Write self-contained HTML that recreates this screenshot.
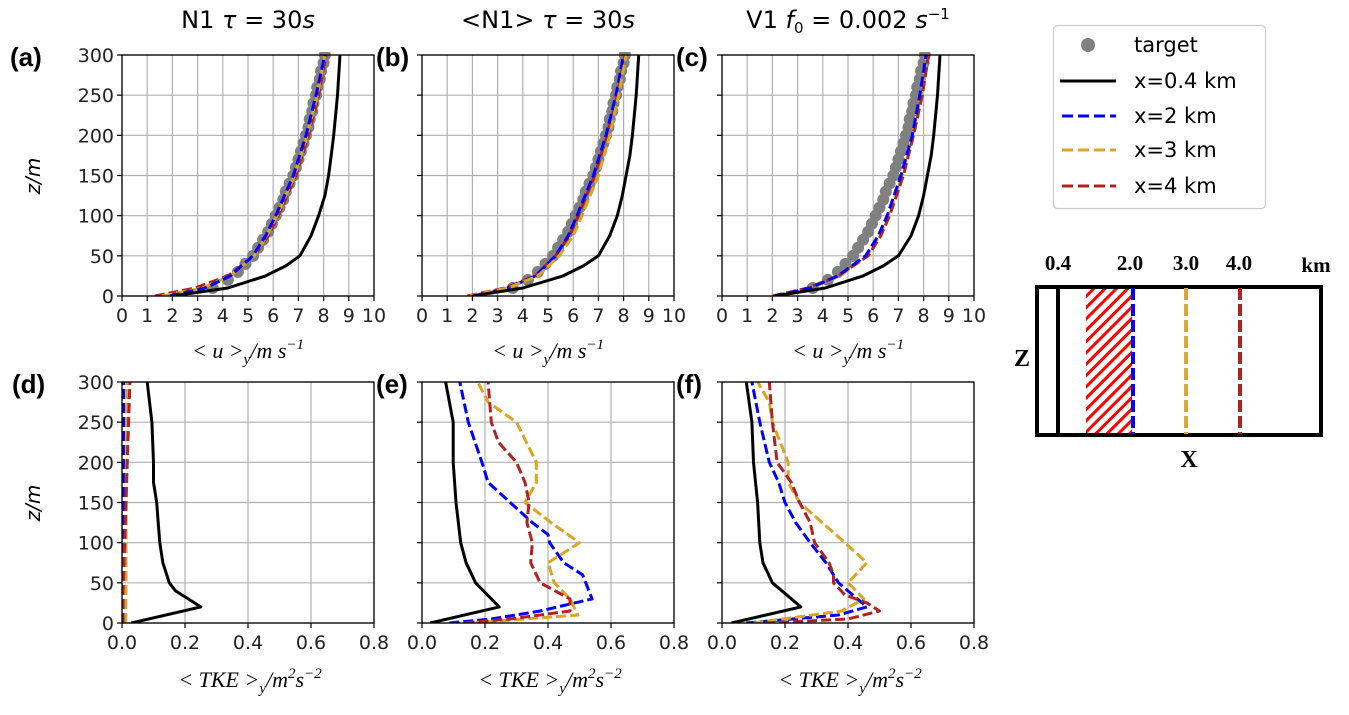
<!DOCTYPE html>
<html><head><meta charset="utf-8"><style>
body{margin:0;background:#fff;}
svg{display:block;font-family:"DejaVu Sans","Liberation Sans",sans-serif;}
.tk{font-size:19px;fill:#222;}
.ml{font-family:"Liberation Serif",serif;font-style:italic;font-size:22px;}
.pl{font-family:"Liberation Sans",sans-serif;font-weight:bold;font-size:26px;}
.ttl{font-size:24px;}
</style></head><body>
<svg id="fig" width="1349" height="715" viewBox="0 0 1349 715"></svg>
<script>
// ---- data ----
const zU = [0,10,25,37.5,50,75,100,125,150,175,200,250,300];
const blackA = [2.0,4.2,5.7,6.5,7.06,7.5,7.8,8.05,8.2,8.3,8.4,8.55,8.65];
const blackB = [2.0,4.0,5.6,6.4,7.0,7.45,7.75,7.95,8.1,8.25,8.35,8.5,8.6];
const blackC = [2.1,4.1,5.6,6.4,7.0,7.5,7.8,8.0,8.15,8.3,8.4,8.55,8.65];
const zT = [10,20,30,40,50,60,70,80,90,100,110,120,130,140,150,160,170,180,190,200,210,220,230,240,250,260,270,280,290,300];
const target = [3.6,4.2,4.6,4.9,5.2,5.4,5.6,5.8,5.95,6.1,6.25,6.4,6.5,6.65,6.8,6.9,7.0,7.1,7.2,7.3,7.4,7.45,7.55,7.6,7.7,7.75,7.85,7.9,8.0,8.05];
const zC = [0,10,25,50,75,100,150,200,250,300];
const blueA = [1.9,3.3,4.3,5.2,5.7,6.1,6.8,7.3,7.7,8.05];
const goldA = [1.6,3.2,4.3,5.25,5.75,6.15,6.85,7.35,7.75,8.05];
const redA = [1.3,2.9,4.2,5.25,5.8,6.2,6.9,7.4,7.8,8.1];
const blueB = [2.0,3.4,4.5,5.3,5.8,6.15,6.8,7.3,7.7,8.0];
const goldB = [1.9,3.4,4.6,5.45,6.0,6.35,7.0,7.45,7.8,8.1];
const redB = [1.8,3.3,4.5,5.3,5.85,6.2,6.85,7.35,7.75,8.05];
const blueC = [2.1,3.5,4.6,5.7,6.2,6.55,7.1,7.55,7.85,8.1];
const goldC = [2.1,3.5,4.7,5.75,6.25,6.6,7.15,7.55,7.9,8.15];
const redC = [2.0,3.4,4.6,5.8,6.3,6.65,7.2,7.6,7.95,8.2];
const uTicks = [0,1,2,3,4,5,6,7,8,9,10];
const tkeTicks = [0,0.2,0.4,0.6,0.8];
const tkeTickLabels = ["0.0","0.2","0.4","0.6","0.8"];
const zTicks = [0,50,100,150,200,250,300];
const zK1 = [0,20,40,50,75,100,125,150,175,200,250,300];
const blackD = [0.03,0.25,0.17,0.15,0.13,0.12,0.115,0.11,0.10,0.10,0.095,0.08];
const zK2 = [0,300];
const blueD = [0.005,0.005];
const goldD = [0.012,0.015];
const redD = [0.0,0.025];
const zE1 = [0,20,50,75,100,150,200,250,300];
const blackE = [0.026,0.245,0.17,0.14,0.123,0.108,0.099,0.099,0.075];
const zEb = [0,5,15,30,60,75,100,110,125,150,175,200,250,300];
const blueE = [0.087,0.22,0.375,0.54,0.51,0.45,0.405,0.40,0.35,0.28,0.21,0.19,0.147,0.12];
const zEg = [0,10,30,50,75,100,125,150,175,200,250,275,300];
const goldE = [0.16,0.495,0.47,0.42,0.40,0.50,0.41,0.327,0.363,0.363,0.30,0.21,0.177];
const zEr = [0,5,15,30,50,75,100,125,150,175,200,225,250,300];
const redE = [0.135,0.28,0.47,0.47,0.375,0.345,0.35,0.333,0.34,0.327,0.30,0.243,0.22,0.21];
const blackF = [0.03,0.25,0.16,0.13,0.12,0.113,0.10,0.095,0.077];
const zFb = [0,10,20,35,50,75,100,125,150,175,200,250,300];
const blueF = [0.077,0.37,0.46,0.415,0.37,0.33,0.28,0.234,0.20,0.18,0.15,0.12,0.095];
const zFg = [0,15,30,50,75,100,125,150,175,200,250,275,300];
const goldF = [0.10,0.38,0.45,0.40,0.46,0.39,0.318,0.246,0.21,0.21,0.16,0.15,0.113];
const zFr = [0,5,15,25,35,50,60,75,100,125,150,175,200,250,300];
const redF = [0.137,0.40,0.50,0.46,0.39,0.354,0.354,0.34,0.294,0.28,0.246,0.22,0.175,0.16,0.15];

const NS="http://www.w3.org/2000/svg";
const svg=document.getElementById('fig');
function el(tag,attrs,parent){const e=document.createElementNS(NS,tag);for(const k in attrs)e.setAttribute(k,attrs[k]);(parent||svg).appendChild(e);return e;}
const COL={black:'#000',blue:'#0000ff',gold:'#daa520',red:'#b22222'};

function panel(id,x0,y0,xmax,ticks,tickLabels,showYLabels){
  const W=252,H=241;
  const g=el('g',{});
  
  
  const sx=v=>x0+v/xmax*W, sy=v=>y0+H-v/300*H;
  ticks.forEach((t,i)=>{
    const x=sx(t);
    el('line',{x1:x,x2:x,y1:y0,y2:y0+H,stroke:'#b0b0b0','stroke-width':1.2},g);
    el('line',{x1:x,x2:x,y1:y0+H,y2:y0+H+5,stroke:'#000','stroke-width':1.2},g);
    const t2=el('text',{x:x,y:y0+H+26,'text-anchor':'middle',class:'tk'},g);
    t2.textContent=tickLabels[i];
    
    
  });
  zTicks.forEach(t=>{
    const y=sy(t);
    el('line',{x1:x0,x2:x0+W,y1:y,y2:y,stroke:'#b0b0b0','stroke-width':1.2},g);
    el('line',{x1:x0-5,x2:x0,y1:y,y2:y,stroke:'#000','stroke-width':1.2},g);
    if(showYLabels){const t2=el('text',{x:x0-8,y:y+7,'text-anchor':'end',class:'tk'},g);t2.textContent=t;
      
      }
  });
  const clip=el('clipPath',{id:'c'+id},g);
  el('rect',{x:x0,y:y0-3,width:W,height:H+3},clip);
  const data=el('g',{'clip-path':'url(#c'+id+')'},g);
  el('rect',{x:x0,y:y0,width:W,height:H,fill:'none',stroke:'#000','stroke-width':1.3},g);
  return {sx,sy,data,g};
}
function line(p,zs,vs,color,dashed,name){
  const pts=zs.map((z,i)=>p.sx(vs[i]).toFixed(1)+','+p.sy(z).toFixed(1)).join(' ');
  const l=el('polyline',{points:pts,fill:'none',stroke:COL[color],'stroke-width':3,'stroke-dasharray':dashed?'10,4':'none','stroke-linejoin':'round'},p.data);
  
  
}
function dots(p,name){
  zT.forEach((z,i)=>{
    const c=el('circle',{cx:p.sx(target[i]),cy:p.sy(z),r:6,fill:'#808080'},p.data);
    
    
  });
}
const uLbl=uTicks.map(String);
const pa=panel('a',122,55,10,uTicks,uLbl,true);
dots(pa,'target-point');
line(pa,zC,redA,'red',true,'line-x4km');line(pa,zC,goldA,'gold',true,'line-x3km');line(pa,zC,blueA,'blue',true,'line-x2km');line(pa,zU,blackA,'black',false,'line-x04km');
const pb=panel('b',422,55,10,uTicks,uLbl,false);
dots(pb,'target-point');
line(pb,zC,redB,'red',true,'line-x4km');line(pb,zC,blueB,'blue',true,'line-x2km');line(pb,zC,goldB,'gold',true,'line-x3km');line(pb,zU,blackB,'black',false,'line-x04km');
const pc=panel('c',722,55,10,uTicks,uLbl,false);
dots(pc,'target-point');
line(pc,zC,goldC,'gold',true,'line-x3km');line(pc,zC,redC,'red',true,'line-x4km');line(pc,zC,blueC,'blue',true,'line-x2km');line(pc,zU,blackC,'black',false,'line-x04km');
const pd=panel('d',122,382,0.8,tkeTicks,tkeTickLabels,true);
line(pd,zK1,blackD,'black',false,'line-x04km');line(pd,zK2,blueD,'blue',true,'line-x2km');line(pd,zK2,goldD,'gold',true,'line-x3km');line(pd,zK2,redD,'red',true,'line-x4km');
const pe=panel('e',422,382,0.8,tkeTicks,tkeTickLabels,false);
line(pe,zE1,blackE,'black',false,'line-x04km');line(pe,zEb,blueE,'blue',true,'line-x2km');line(pe,zEg,goldE,'gold',true,'line-x3km');line(pe,zEr,redE,'red',true,'line-x4km');
const pf=panel('f',722,382,0.8,tkeTicks,tkeTickLabels,false);
line(pf,zE1,blackF,'black',false,'line-x04km');line(pf,zFb,blueF,'blue',true,'line-x2km');line(pf,zFg,goldF,'gold',true,'line-x3km');line(pf,zFr,redF,'red',true,'line-x4km');
</script>
<script>
// static text overlays
const S=document.getElementById('fig');
S.insertAdjacentHTML('beforeend',`
<g>
<text class="ttl" x="248" y="28" text-anchor="middle">N1 <tspan font-style="italic">τ</tspan> = 30<tspan font-style="italic">s</tspan></text>
<text class="ttl" x="548" y="28" text-anchor="middle">&lt;N1&gt; <tspan font-style="italic">τ</tspan> = 30<tspan font-style="italic">s</tspan></text>
<text class="ttl" x="848" y="28" text-anchor="middle">V1 <tspan font-style="italic">f</tspan><tspan font-size="15" dy="5">0</tspan><tspan dy="-5"> = 0.002 </tspan><tspan font-style="italic">s</tspan><tspan font-size="15" dy="-9">−1</tspan></text>
</g>
<text class="pl" x="10" y="66">(a)</text>
<text class="pl" x="376" y="66">(b)</text>
<text class="pl" x="676" y="66">(c)</text>
<text class="pl" x="12" y="393">(d)</text>
<text class="pl" x="376" y="393">(e)</text>
<text class="pl" x="676" y="393">(f)</text>
<text font-size="20" font-style="italic" transform="translate(40,176) rotate(-90)" text-anchor="middle">z/m</text>
<text font-size="20" font-style="italic" transform="translate(40,503) rotate(-90)" text-anchor="middle">z/m</text>
${[248,548,848].map(x=>`<text class="ml" x="${x}" y="358" text-anchor="middle">&lt; u &gt;<tspan font-size="15" dy="6">y</tspan><tspan dy="-6">/m s</tspan><tspan font-size="15" dy="-9">−1</tspan></text>`).join('')}
${[250,550,850].map(x=>`<text class="ml" x="${x}" y="687" text-anchor="middle">&lt; TKE &gt;<tspan font-size="15" dy="6">y</tspan><tspan dy="-6">/m</tspan><tspan font-size="15" dy="-9">2</tspan><tspan dy="9">s</tspan><tspan font-size="15" dy="-9">−2</tspan></text>`).join('')}
<g>
<rect x="1053.5" y="25.5" width="212" height="183" rx="4" fill="#fff" stroke="#ccc" stroke-width="1.2"/>
<circle cx="1088" cy="45" r="7" fill="#808080"/>
<line x1="1060" x2="1116" y1="81" y2="81" stroke="#000" stroke-width="3"/>
<line x1="1062" x2="1116" y1="116" y2="116" stroke="#0000ff" stroke-width="3" stroke-dasharray="11,5"/>
<line x1="1062" x2="1116" y1="150" y2="150" stroke="#daa520" stroke-width="3" stroke-dasharray="11,5"/>
<line x1="1062" x2="1116" y1="186" y2="186" stroke="#b22222" stroke-width="3" stroke-dasharray="11,5"/>
<text x="1134" y="52" font-size="21">target</text>
<text x="1134" y="88" font-size="21">x=0.4 km</text>
<text x="1134" y="123" font-size="21">x=2 km</text>
<text x="1134" y="157" font-size="21">x=3 km</text>
<text x="1134" y="193" font-size="21">x=4 km</text>
</g>
<g>
<defs><pattern id="hatch" width="8" height="8" patternUnits="userSpaceOnUse" patternTransform="rotate(45)"><rect width="8" height="8" fill="#fff"/><rect width="3" height="8" fill="#ff0000"/></pattern></defs>
<rect x="1086" y="289" width="46" height="145" fill="url(#hatch)"/>
<rect x="1037" y="287" width="284" height="148" fill="none" stroke="#000" stroke-width="4"/>
<line x1="1058" x2="1058" y1="287" y2="435" stroke="#000" stroke-width="4"/>
<line x1="1133" x2="1133" y1="288" y2="434" stroke="#0000ff" stroke-width="4" stroke-dasharray="12,4"/>
<line x1="1186" x2="1186" y1="288" y2="434" stroke="#d4a843" stroke-width="4" stroke-dasharray="12,4"/>
<line x1="1240" x2="1240" y1="288" y2="434" stroke="#b22222" stroke-width="4" stroke-dasharray="12,4"/>
<g font-family="Liberation Serif,serif" font-weight="bold" font-size="21">
<text x="1058" y="270" text-anchor="middle">0.4</text>
<text x="1130" y="270" text-anchor="middle">2.0</text>
<text x="1186" y="270" text-anchor="middle">3.0</text>
<text x="1239" y="270" text-anchor="middle">4.0</text>
<text x="1316" y="272" text-anchor="middle">km</text>
<text x="1022" y="366" text-anchor="middle" font-size="24">Z</text>
<text x="1189" y="467" text-anchor="middle" font-size="24">X</text>
</g></g>`);
</script>
</body></html>
